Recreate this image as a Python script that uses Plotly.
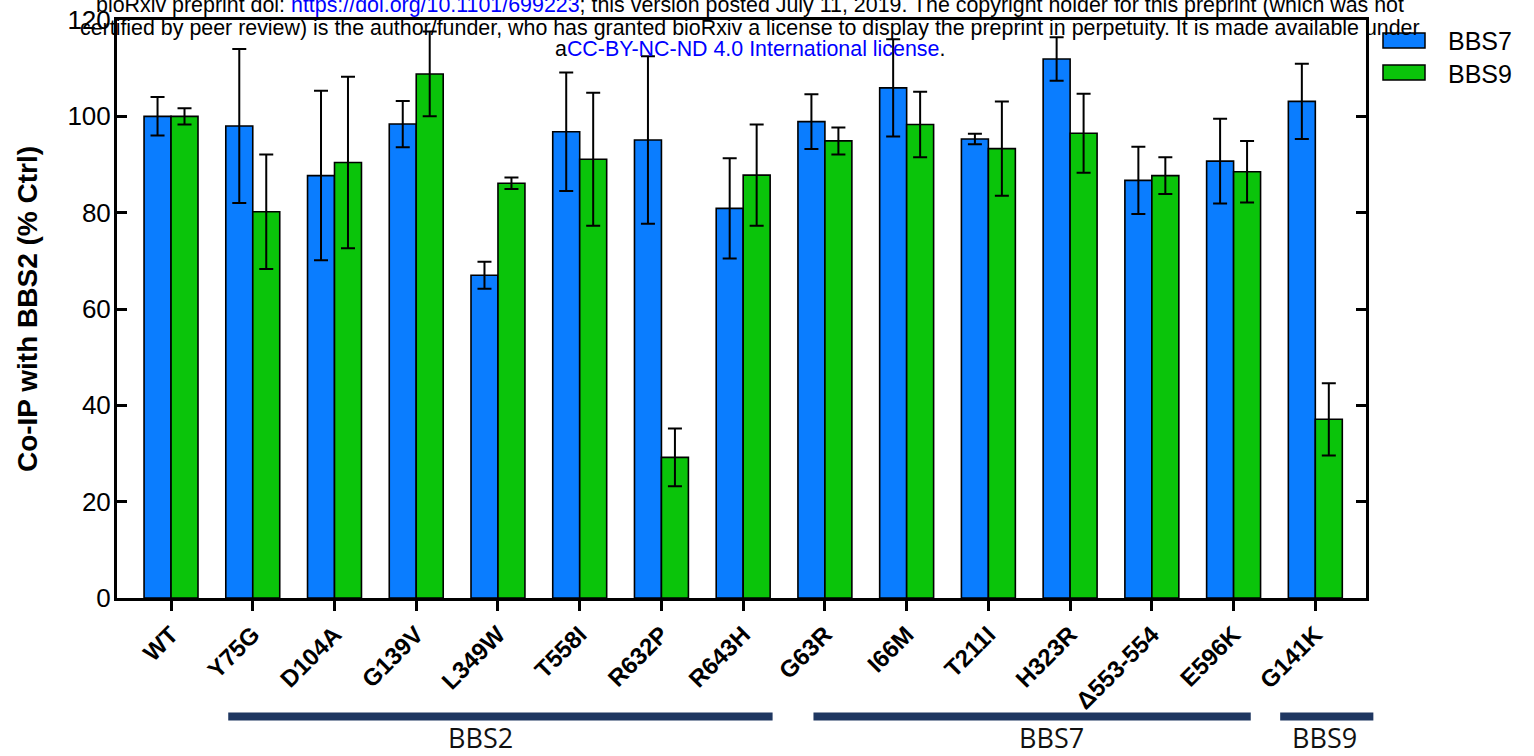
import plotly.graph_objects as go

# ---------------- data ----------------
categories = ["WT", "Y75G", "D104A", "G139V", "L349W", "T558I", "R632P", "R643H",
              "G63R", "I66M", "T211I", "H323R", "Δ553-554", "E596K", "G141K"]
series_names = ["BBS7", "BBS9"]
bbs7_values = [100.0, 98.0, 87.7, 98.4, 67.0, 96.8, 95.1, 80.9,
               98.9, 105.9, 95.3, 111.9, 86.7, 90.7, 103.1]
bbs7_err = [4.0, 16.0, 17.6, 4.8, 2.8, 12.3, 17.4, 10.4,
            5.7, 10.1, 1.1, 4.5, 7.0, 8.8, 7.8]
bbs9_values = [100.0, 80.2, 90.4, 108.8, 86.1, 91.1, 29.2, 87.8,
               94.9, 98.3, 93.3, 96.5, 87.7, 88.5, 37.1]
bbs9_err = [1.7, 11.9, 17.8, 8.8, 1.2, 13.8, 6.0, 10.5,
            2.8, 6.8, 9.8, 8.2, 3.8, 6.4, 7.5]
y_ticks = [0, 20, 40, 60, 80, 100, 120]
y_title = "Co-IP with BBS2 (% Ctrl)"
group_names = ["BBS2", "BBS7", "BBS9"]
group_first = ["Y75G", "G63R", "G141K"]
group_last = ["R643H", "E596K", "G141K"]

watermark_lines = [
    'bioRxiv preprint doi: <span style="color:#0000ff">https://doi.org/10.1101/699223</span>; '
    'this version posted July 11, 2019. The copyright holder for this preprint (which was not',
    'certified by peer review) is the author/funder, who has granted bioRxiv a license to display '
    'the preprint in perpetuity. It is made available under',
    'a<span style="color:#0000ff">CC-BY-NC-ND 4.0 International license</span>.',
]

# ---------------- style / layout ----------------
W, H = 1534, 756
L, R, T, B = 117, 1366, 20, 598
X_RANGE = [-0.661, 14.62]
colors = ["#0a7dff", "#0ac40a"]
FONT = "Liberation Sans, Arial, sans-serif"


def py(p):  # pixel y -> paper y
    return (B - p) / (B - T)


def px(p):  # pixel x -> paper x
    return (p - L) / (R - L)


def cx(v):  # category coordinate -> paper x (lets shapes extend past the axis)
    return (v - X_RANGE[0]) / (X_RANGE[1] - X_RANGE[0])


fig = go.Figure()
for name, vals, errs, col in [(series_names[0], bbs7_values, bbs7_err, colors[0]),
                              (series_names[1], bbs9_values, bbs9_err, colors[1])]:
    fig.add_trace(go.Bar(
        name=name, x=categories, y=vals,
        marker=dict(color=col, line=dict(color="#000000", width=1.6)),
        error_y=dict(type="data", array=errs, visible=True,
                     color="#000000", thickness=2, width=7),
        showlegend=False,
    ))

shapes = []
annotations = []

# custom legend
for i, (name, col) in enumerate(zip(series_names, colors)):
    yc = 40.5 + 32 * i
    shapes.append(dict(type="rect", xref="paper", yref="paper",
                       x0=px(1383), x1=px(1425), y0=py(yc - 7.5), y1=py(yc + 7.5),
                       fillcolor=col, line=dict(color="#000000", width=1.5)))
    annotations.append(dict(text=name, xref="paper", yref="paper",
                            x=px(1446), y=py(yc + 1), xanchor="left", yanchor="middle",
                            showarrow=False,
                            font=dict(family=FONT, size=25, color="#000000")))

# gene group bars beneath the axis
pad_start = [-0.30, -0.14, -0.43]
pad_end = [0.36, 0.21, 0.71]
label_shift = [-0.24, 0.24, -0.03]
for g, name in enumerate(group_names):
    i0 = categories.index(group_first[g])
    i1 = categories.index(group_last[g])
    shapes.append(dict(type="line", xref="paper", yref="paper",
                       x0=cx(i0 + pad_start[g]), x1=cx(i1 + pad_end[g]),
                       y0=py(716.5), y1=py(716.5),
                       line=dict(color="#1f3761", width=8)))
    annotations.append(dict(text=name, xref="paper", yref="paper",
                            x=cx((i0 + pad_start[g] + i1 + pad_end[g]) / 2 + label_shift[g]),
                            y=py(737), xanchor="center", yanchor="middle",
                            showarrow=False,
                            font=dict(family="Open Sans, sans-serif", size=27,
                                      color="#111111")))

# watermark text on top
wm_y = [5, 27.5, 49.5]
for line, yy in zip(watermark_lines, wm_y):
    annotations.append(dict(text=line, xref="paper", yref="paper",
                            x=px(750), y=py(yy), xanchor="center", yanchor="middle",
                            showarrow=False,
                            font=dict(family=FONT, size=21.4, color="#000000")))

fig.update_layout(
    width=W, height=H,
    margin=dict(l=L, r=W - R, t=T, b=H - B, autoexpand=False),
    paper_bgcolor="white", plot_bgcolor="white",
    barmode="group", bargap=0.34, bargroupgap=0,
    shapes=shapes, annotations=annotations,
    showlegend=False,
    font=dict(family=FONT, color="#000000"),
)
fig.update_xaxes(
    type="category", categoryorder="array", categoryarray=categories,
    range=X_RANGE, showgrid=False, zeroline=False,
    showline=True, linecolor="#000000", linewidth=3, mirror=True,
    ticks="outside", ticklen=10, tickwidth=3, tickcolor="#000000",
    tickangle=-45, tickfont=dict(family=FONT, size=24, color="#000000", weight="bold"),
    automargin=False,
)
fig.update_yaxes(
    range=[0, 120], tickvals=y_ticks, showgrid=False, zeroline=False,
    showline=True, linecolor="#000000", linewidth=3, mirror="ticks",
    ticks="inside", ticklen=10, tickwidth=3, tickcolor="#000000",
    tickfont=dict(family=FONT, size=26, color="#000000"),
    ticklabelstandoff=-2,
    title=dict(text=y_title, standoff=22,
               font=dict(family=FONT, size=28, color="#000000", weight="bold")),
    automargin=False,
)

fig.write_html(
    "out.html",
    config={"displayModeBar": False},
    post_script="document.body.style.margin='0';document.body.style.overflow='hidden';",
)
